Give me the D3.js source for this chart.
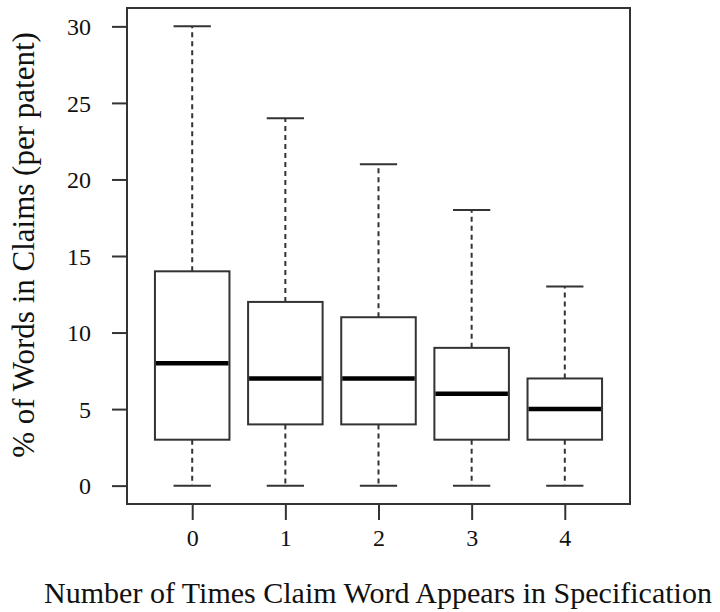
<!DOCTYPE html>
<html>
<head>
<meta charset="utf-8">
<script src="https://cdnjs.cloudflare.com/ajax/libs/d3/7.8.5/d3.min.js"></script>
<style>
  body { margin: 0; background: #fff; }
  text { font-family: "Liberation Serif", "Times New Roman", serif; fill: #111; }
</style>
</head>
<body>
<div id="chart"></div>
<script>
// box stats
var groups = ["0", "1", "2", "3", "4"];
var whiskerLow = [0, 0, 0, 0, 0];
var q1 = [3, 4, 4, 3, 3];
var medians = [8, 7, 7, 6, 5];
var q3 = [14, 12, 11, 9, 7];
var whiskerHigh = [30, 24, 21, 18, 13];
var yTicks = [0, 5, 10, 15, 20, 25, 30];
var xtext = "Number of Times Claim Word Appears in Specification";
var ytext = "% of Words in Claims (per patent)";

var svgW = 720, svgH = 612;
var margin = {top: 8, right: 90, bottom: 108, left: 127};
var width = svgW - margin.left - margin.right;
var height = svgH - margin.top - margin.bottom;

var svg = d3.select("#chart").append("svg")
  .attr("width", svgW)
  .attr("height", svgH);

var chartGroup = svg.append("g")
  .attr("transform", `translate(${margin.left}, ${margin.top})`);

// R style: positions 1..n, xlim 0.5..n+0.5 with 4% padding
var n = groups.length;
var xScale = d3.scaleLinear()
  .domain([0.5 - 0.04 * n, n + 0.5 + 0.04 * n])
  .range([0, width]);

var yScale = d3.scaleLinear()
  .domain([-1.2, 31.2])
  .range([height, 0]);

var lineCol = "#333";
var boxW = xScale(0.8) - xScale(0);
var capW = boxW / 2;

// frame
chartGroup.append("rect")
  .attr("width", width)
  .attr("height", height)
  .attr("fill", "none")
  .attr("stroke", lineCol)
  .attr("stroke-width", 2);

// axes
var leftAxis = d3.axisLeft(yScale).tickValues(yTicks).tickSize(15).tickPadding(21);
var bottomAxis = d3.axisBottom(xScale).tickValues(d3.range(1, n + 1))
  .tickFormat((d, i) => groups[i]).tickSize(16).tickPadding(9);

var yAxisG = chartGroup.append("g").call(leftAxis);
var xAxisG = chartGroup.append("g")
  .attr("transform", `translate(0, ${height})`)
  .call(bottomAxis);

[yAxisG, xAxisG].forEach(function(g) {
  g.select(".domain").remove();
  g.selectAll(".tick line").attr("stroke", lineCol).attr("stroke-width", 2);
  g.selectAll(".tick text")
    .attr("fill", "#111")
    .style("font-family", "'Liberation Serif', 'Times New Roman', serif")
    .style("font-size", "24px");
});
yAxisG.selectAll(".tick text").attr("dy", "0.34em");

// boxes
var boxes = chartGroup.selectAll(".box")
  .data(groups)
  .enter()
  .append("g")
  .attr("class", "box");

boxes.append("line")
  .attr("x1", (d, i) => xScale(i + 1))
  .attr("x2", (d, i) => xScale(i + 1))
  .attr("y1", (d, i) => yScale(q3[i]))
  .attr("y2", (d, i) => yScale(whiskerHigh[i]))
  .attr("stroke", lineCol)
  .attr("stroke-width", 2)
  .attr("stroke-dasharray", "5,4");

boxes.append("line")
  .attr("x1", (d, i) => xScale(i + 1))
  .attr("x2", (d, i) => xScale(i + 1))
  .attr("y1", (d, i) => yScale(q1[i]))
  .attr("y2", (d, i) => yScale(whiskerLow[i]))
  .attr("stroke", lineCol)
  .attr("stroke-width", 2)
  .attr("stroke-dasharray", "5,4");

// whisker caps
boxes.append("line")
  .attr("x1", (d, i) => xScale(i + 1) - capW / 2)
  .attr("x2", (d, i) => xScale(i + 1) + capW / 2)
  .attr("y1", (d, i) => yScale(whiskerHigh[i]))
  .attr("y2", (d, i) => yScale(whiskerHigh[i]))
  .attr("stroke", lineCol)
  .attr("stroke-width", 2);

boxes.append("line")
  .attr("x1", (d, i) => xScale(i + 1) - capW / 2)
  .attr("x2", (d, i) => xScale(i + 1) + capW / 2)
  .attr("y1", (d, i) => yScale(whiskerLow[i]))
  .attr("y2", (d, i) => yScale(whiskerLow[i]))
  .attr("stroke", lineCol)
  .attr("stroke-width", 2);

boxes.append("rect")
  .attr("x", (d, i) => xScale(i + 1) - boxW / 2)
  .attr("y", (d, i) => yScale(q3[i]))
  .attr("width", boxW)
  .attr("height", (d, i) => yScale(q1[i]) - yScale(q3[i]))
  .attr("fill", "#fff")
  .attr("stroke", lineCol)
  .attr("stroke-width", 2);

boxes.append("line")
  .attr("x1", (d, i) => xScale(i + 1) - boxW / 2 + 1)
  .attr("x2", (d, i) => xScale(i + 1) + boxW / 2 - 1)
  .attr("y1", (d, i) => yScale(medians[i]))
  .attr("y2", (d, i) => yScale(medians[i]))
  .attr("stroke", "#000")
  .attr("stroke-width", 4.5);

// axis titles
svg.append("text")
  .attr("x", 378)
  .attr("y", 603)
  .attr("text-anchor", "middle")
  .style("font-size", "30px")
  .text(xtext);

svg.append("text")
  .attr("transform", "translate(34, 245) rotate(-90)")
  .attr("text-anchor", "middle")
  .style("font-size", "31px")
  .text(ytext);
</script>
</body>
</html>
